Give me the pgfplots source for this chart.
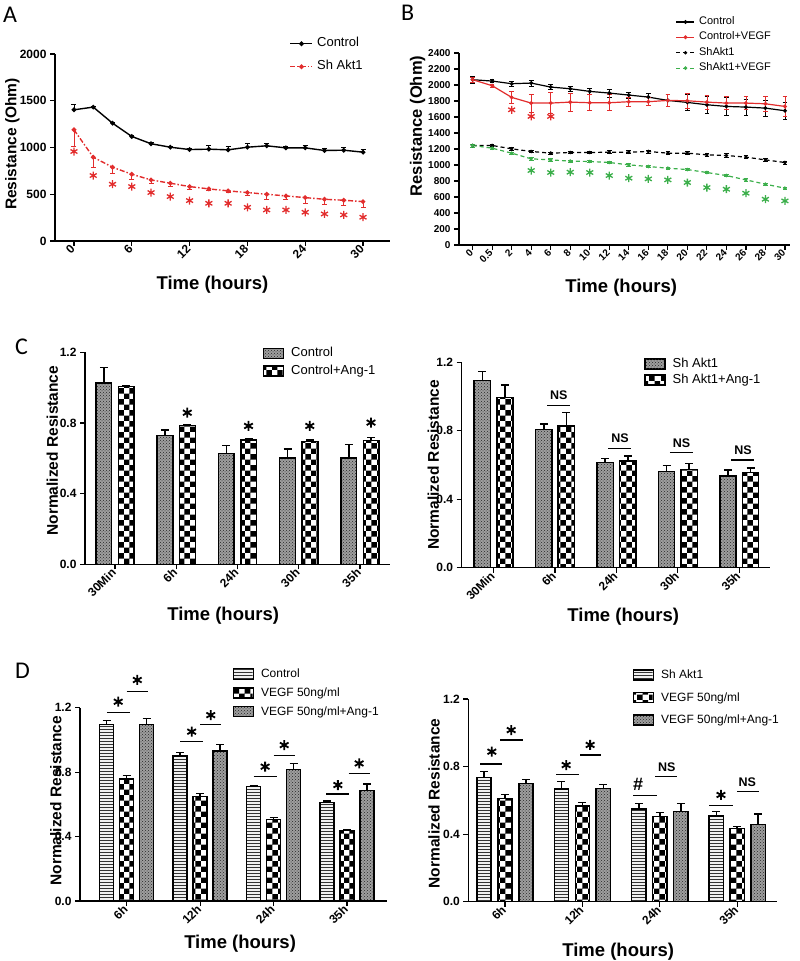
\documentclass[border=0pt]{standalone}
\usepackage{fontspec}
\setmainfont{Liberation Sans}
\newfontfamily\lblfont{Carlito}
\usepackage{pgfplots}
\usepackage{pgfplotstable}
\pgfplotsset{compat=1.18}
\usetikzlibrary{patterns}
\definecolor{myred}{RGB}{226,45,45}
\definecolor{mygreen}{RGB}{60,175,75}

\pgfplotstableread{
t  c    ce  s    se   st
0  1403 55  1189 180  957
2  1432 10  896  110  700
4  1260 12  789  70   607
6  1118 15  714  60   582
8  1040 10  653  40   518
10 1003 12  618  30   475
12 978  10  582  25   432
14 982  45  557  20   403
16 975  40  536  20   403
18 1003 45  518  30   360
20 1018 30  500  60   332
22 996  20  482  40   332
24 996  25  464  60   307
26 968  25  446  55   289
28 971  25  436  50   279
30 950  25  421  60   254
}\dataA

\pgfplotstableread{
i  c    ce   cv   cve  s    se  sv   sve
0  2066 40   2066 30   1244 20  1244 20
1  2049 20   1991 20   1244 15  1210 15
2  2016 30   1845 80   1202 15  1148 15
3  2024 40   1774 110  1169 15  1077 15
4  1974 30   1774 130  1148 15  1064 15
5  1953 30   1786 110  1156 15  1048 15
6  1920 40   1778 100  1156 15  1044 15
7  1899 50   1778 100  1160 20  1031 15
8  1874 40   1791 60   1160 20  1002 15
9  1849 50   1791 50   1169 20  981  15
10 1807 80   1807 80   1148 20  960  15
11 1782 100  1803 90   1148 20  943  15
12 1753 110  1786 90   1127 20  906  15
13 1732 110  1774 80   1119 25  868  15
14 1724 100  1774 80   1098 20  814  15
15 1711 100  1765 90   1064 20  760  15
16 1678 110  1732 120  1031 20  710  15
}\dataB

\pgfplotstableread{
i  g
3  931
4  906
5  910
6  906
7  868
8  835
9  826
10 814
11 781
12 718
13 697
14 647
15 572
16 551
}\starsBg

\pgfplotstableread{
x  c     ce     a     ae
0  1.025 0.088  1.006 0.005
1  0.728 0.032  0.787 0.005
2  0.628 0.044  0.704 0.007
3  0.602 0.051  0.694 0.010
4  0.602 0.077  0.700 0.019
}\dataCL

\pgfplotstableread{
x  c     ce     a     ae
0  1.093 0.052  0.995 0.071
1  0.808 0.032  0.828 0.078
2  0.614 0.025  0.623 0.030
3  0.561 0.035  0.575 0.035
4  0.536 0.035  0.557 0.024
}\dataCR

\pgfplotstableread{
x  c     ce     v     ve     a     ae
0  1.097 0.022  0.757 0.021  1.097 0.037
1  0.900 0.021  0.648 0.020  0.931 0.041
2  0.710 0.008  0.507 0.012  0.817 0.037
3  0.610 0.011  0.438 0.007  0.685 0.041
}\dataDL

\pgfplotstableread{
x  c     ce     v     ve     a     ae
0  0.734 0.036  0.612 0.024  0.701 0.023
1  0.667 0.044  0.568 0.018  0.671 0.024
2  0.549 0.033  0.503 0.024  0.533 0.049
3  0.507 0.026  0.434 0.010  0.458 0.061
}\dataDR

\tikzset{
  pgray/.style={draw=none, preaction={fill=black!38}, pattern=crosshatch dots, pattern color=black!85},
  pcheck/.style={draw=none, preaction={fill=white}, pattern=checkerboard, pattern color=black},
  phl/.style={draw=none, preaction={fill=black!6}, pattern=horizontal lines, pattern color=black!80},
  outl/.style={draw=black, fill=none, line width=1.5pt},
}

\pgfplotsset{
  gp/.style={
    scale only axis,
    axis lines=left,
    axis line style={-, line width=1.3pt},
    tick align=outside,
    major tick length=5pt,
    tick style={black, line width=1.2pt},
    /pgf/number format/assume math mode=true,
    ticklabel style={font=\fontsize{12}{12}\selectfont\bfseries},
    xticklabel style={rotate=45, anchor=east, inner sep=1.5pt},
    xlabel style={font=\fontsize{18.5}{18.5}\selectfont\bfseries, anchor=center},
    ylabel style={font=\fontsize{15.5}{15.5}\selectfont\bfseries, anchor=center},
    clip=false,
    legend cell align=left,
  },
  lineleg/.style={
    legend style={draw=none, fill=none, inner sep=0pt, anchor=north east,
      nodes={text height=0.75em, text depth=0.25em, inner sep=1pt},
      /tikz/every odd column/.append style={column sep=3pt}},
  },
  barleg/.style={
    legend style={draw=none, fill=none, inner sep=0pt, anchor=north east,
      nodes={text height=0.75em, text depth=0.25em, inner sep=1pt},
      /tikz/every odd column/.append style={column sep=6pt}},
    legend image code/.code={%
      \draw[black, line width=1.5pt, fill=none] (0pt,-4pt) rectangle (20pt,6pt);
      \path[##1, draw=none] (0.75pt,-3.25pt) rectangle (19.25pt,5.25pt);},
  },
  eb/.style={error bars/.cd, y dir=plus, y explicit,
    error bar style={solid, draw=black, line width=1.5pt},
    error mark options={solid, draw=black, rotate=90, mark size=4pt, line width=1.5pt}},
}

\begin{document}
\begin{tikzpicture}[x=1pt,y=1pt]
\path[use as bounding box] (0,0) rectangle (800,961);

% ---------- Panel labels
\node[font=\lblfont\fontsize{24}{24}\selectfont, anchor=north west, inner sep=0pt] at (3,954) {A};
\node[font=\lblfont\fontsize{24}{24}\selectfont, anchor=north west, inner sep=0pt] at (401,956) {B};
\node[font=\lblfont\fontsize{24}{24}\selectfont, anchor=north west, inner sep=0pt] at (15,622) {C};
\node[font=\lblfont\fontsize{24}{24}\selectfont, anchor=north west, inner sep=0pt] at (15,298) {D};

% ---------- Panel A
\begin{axis}[gp, lineleg, at={(55pt,720pt)}, anchor=south west,
  width=335pt, height=187pt,
  xmin=-1.97, xmax=32.8, ymin=0, ymax=2000,
  xtick={0,6,12,18,24,30}, xticklabels={0,6,12,18,24,30},
  ytick={0,500,1000,1500,2000}, yticklabels={0,500,1000,1500,2000},
  xlabel={Time (hours)}, ylabel={Resistance (Ohm)},
  xlabel style={at={(axis description cs:0.47,-0.235)}},
  ylabel style={at={(axis description cs:-0.127,0.519)}},
  legend style={at={(0.922,1.088)}, row sep=11pt, font=\fontsize{13}{13}\selectfont},
  legend image code/.code={\draw[mark repeat=2, mark phase=2, #1] plot coordinates {(0pt,0pt)(11pt,0pt)(22pt,0pt)};},
]
\addplot[black, line width=1.4pt, mark=*, mark size=1.6pt,
  error bars/.cd, y dir=plus, y explicit,
  error bar style={solid, line width=0.8pt},
  error mark options={solid, rotate=90, mark size=2.5pt, line width=0.8pt}]
  table[x=t, y=c, y error=ce] {\dataA};
\addlegendentry{Control}
\addplot[myred, line width=1.4pt, dash pattern=on 5pt off 2pt on 1.5pt off 2pt, mark=*, mark size=1.6pt, mark options={solid},
  error bars/.cd, y dir=minus, y explicit,
  error bar style={solid, line width=0.8pt},
  error mark options={solid, rotate=90, mark size=2.5pt, line width=0.8pt}]
  table[x=t, y=s, y error=se] {\dataA};
\addlegendentry{Sh Akt1}
\addplot[myred, only marks, mark=asterisk, mark size=4pt, line width=1.3pt, forget plot]
  table[x=t, y=st] {\dataA};
\end{axis}

% ---------- Panel B
\begin{axis}[gp, lineleg, at={(459pt,716pt)}, anchor=south west,
  width=331pt, height=192pt,
  xmin=-0.70, xmax=16.26, ymin=0, ymax=2400,
  xtick={0,...,16}, xticklabels={0,0.5,2,4,6,8,10,12,14,16,18,20,22,24,26,28,30},
  ticklabel style={font=\fontsize{10}{10}\selectfont\bfseries},
  ytick={0,200,...,2400}, yticklabels={0,200,400,600,800,1000,1200,1400,1600,1800,2000,2200,2400},
  xlabel={Time (hours)}, ylabel={Resistance (Ohm)},
  ylabel style={font=\fontsize{16.5}{16.5}\selectfont\bfseries},
  xlabel style={at={(axis description cs:0.49,-0.221)}},
  ylabel style={at={(axis description cs:-0.125,0.62)}},
  legend style={at={(0.946,1.194)}, row sep=3.4pt, font=\fontsize{11}{11}\selectfont},
  legend image code/.code={\draw[mark repeat=2, mark phase=2, #1] plot coordinates {(0pt,0pt)(9pt,0pt)(18pt,0pt)};},
]
\addplot[black, line width=1.2pt, mark=*, mark size=1.3pt,
  error bars/.cd, y dir=both, y explicit,
  error bar style={solid, line width=0.7pt},
  error mark options={solid, rotate=90, mark size=2.3pt, line width=0.7pt}]
  table[x=i, y=c, y error=ce] {\dataB};
\addlegendentry{Control}
\addplot[myred, line width=1.2pt, mark=*, mark size=1.3pt,
  error bars/.cd, y dir=both, y explicit,
  error bar style={solid, line width=0.7pt},
  error mark options={solid, rotate=90, mark size=2.3pt, line width=0.7pt}]
  table[x=i, y=cv, y error=cve] {\dataB};
\addlegendentry{Control+VEGF}
\addplot[black, line width=1.2pt, dash pattern=on 4pt off 3pt, mark=*, mark size=1.1pt, mark options={solid},
  error bars/.cd, y dir=both, y explicit,
  error bar style={solid, line width=0.7pt},
  error mark options={solid, rotate=90, mark size=2.3pt, line width=0.7pt}]
  table[x=i, y=s, y error=se] {\dataB};
\addlegendentry{ShAkt1}
\addplot[mygreen, line width=1.2pt, dash pattern=on 4pt off 3pt, mark=*, mark size=1.1pt, mark options={solid},
  error bars/.cd, y dir=both, y explicit,
  error bar style={solid, line width=0.7pt},
  error mark options={solid, rotate=90, mark size=2.3pt, line width=0.7pt}]
  table[x=i, y=sv, y error=sve] {\dataB};
\addlegendentry{ShAkt1+VEGF}
\addplot[myred, only marks, mark=asterisk, mark size=4pt, line width=1.3pt, forget plot]
  coordinates {(2,1690) (3,1607) (4,1607)};
\addplot[mygreen, only marks, mark=asterisk, mark size=4pt, line width=1.3pt, forget plot]
  table[x=i, y=g] {\starsBg};
\end{axis}

% ---------- Panel C left
\begin{axis}[gp, barleg, at={(85pt,396.7pt)}, anchor=south west,
  width=305pt, height=212pt,
  xmin=-0.49, xmax=4.49, ymin=0, ymax=1.2,
  xtick={0,...,4}, xticklabels={30Min,6h,24h,30h,35h},
  ytick={0,0.4,0.8,1.2}, yticklabels={0.0,0.4,0.8,1.2},
  xlabel={Time (hours)}, ylabel={Normalized Resistance},
  xlabel style={at={(axis description cs:0.453,-0.242)}},
  ylabel style={at={(axis description cs:-0.107,0.536)}},
  legend style={at={(0.956,1.023)}, row sep=5pt, font=\fontsize{13}{13}\selectfont},
]
\addplot[ybar, bar width=15.7pt, bar shift=0pt, pgray] table[x expr=\thisrow{x}-0.183, y=c] {\dataCL};
\addlegendentry{Control}
\addplot[ybar, bar width=15.7pt, bar shift=0pt, pcheck] table[x expr=\thisrow{x}+0.183, y=a] {\dataCL};
\addlegendentry{Control+Ang-1}
\addplot[ybar, bar width=15.7pt, bar shift=0pt, outl, forget plot, eb] table[x expr=\thisrow{x}-0.183, y=c, y error=ce] {\dataCL};
\addplot[ybar, bar width=15.7pt, bar shift=0pt, outl, forget plot, eb] table[x expr=\thisrow{x}+0.183, y=a, y error=ae] {\dataCL};
\addplot[black, only marks, mark=asterisk, mark size=5pt, line width=1.8pt, forget plot]
  coordinates {(1.18,0.858) (2.18,0.783) (3.18,0.783) (4.18,0.802)};
\end{axis}

% ---------- Panel C right
\begin{axis}[gp, barleg, at={(461.7pt,393.3pt)}, anchor=south west,
  width=308.3pt, height=205.4pt,
  xmin=-0.52, xmax=4.5, ymin=0, ymax=1.2,
  xtick={0,...,4}, xticklabels={30Min,6h,24h,30h,35h},
  ytick={0,0.4,0.8,1.2}, yticklabels={0.0,0.4,0.8,1.2},
  xlabel={Time (hours)}, ylabel={Normalized Resistance},
  xlabel style={at={(axis description cs:0.524,-0.239)}},
  ylabel style={at={(axis description cs:-0.092,0.5)}},
  legend style={at={(0.973,1.02)}, row sep=3.3pt, font=\fontsize{13}{13}\selectfont},
]
\addplot[ybar, bar width=16.3pt, bar shift=0pt, pgray] table[x expr=\thisrow{x}-0.184, y=c] {\dataCR};
\addlegendentry{Sh Akt1}
\addplot[ybar, bar width=16.3pt, bar shift=0pt, pcheck] table[x expr=\thisrow{x}+0.184, y=a] {\dataCR};
\addlegendentry{Sh Akt1+Ang-1}
\addplot[ybar, bar width=16.3pt, bar shift=0pt, outl, forget plot, eb] table[x expr=\thisrow{x}-0.184, y=c, y error=ce] {\dataCR};
\addplot[ybar, bar width=16.3pt, bar shift=0pt, outl, forget plot, eb] table[x expr=\thisrow{x}+0.184, y=a, y error=ae] {\dataCR};
\addplot[black, line width=1.3pt, forget plot] coordinates {(0.87,0.949) (1.24,0.949)};
\addplot[black, line width=1.3pt, forget plot] coordinates {(1.87,0.697) (2.24,0.697)};
\addplot[black, line width=1.3pt, forget plot] coordinates {(2.87,0.672) (3.24,0.672)};
\addplot[black, line width=1.3pt, forget plot] coordinates {(3.87,0.629) (4.24,0.629)};
\node[font=\fontsize{12.5}{12.5}\selectfont\bfseries, anchor=base, yshift=5.5pt] at (axis cs:1.06,0.949) {NS};
\node[font=\fontsize{12.5}{12.5}\selectfont\bfseries, anchor=base, yshift=5.5pt] at (axis cs:2.06,0.697) {NS};
\node[font=\fontsize{12.5}{12.5}\selectfont\bfseries, anchor=base, yshift=5.5pt] at (axis cs:3.06,0.672) {NS};
\node[font=\fontsize{12.5}{12.5}\selectfont\bfseries, anchor=base, yshift=5.5pt] at (axis cs:4.06,0.629) {NS};
\end{axis}

% ---------- Panel D left
\begin{axis}[gp, barleg, at={(80pt,60pt)}, anchor=south west,
  width=306.7pt, height=193.3pt,
  xmin=-0.635, xmax=3.54, ymin=0, ymax=1.2,
  xtick={0,...,3}, xticklabels={6h,12h,24h,35h},
  ytick={0,0.4,0.8,1.2}, yticklabels={0.0,0.4,0.8,1.2},
  xlabel={Time (hours)}, ylabel={Normalized Resistance},
  xlabel style={at={(axis description cs:0.522,-0.222)}},
  ylabel style={at={(axis description cs:-0.079,0.519)}},
  legend style={at={(0.978,1.204)}, row sep=6pt, font=\fontsize{12}{12}\selectfont},
]
\addplot[ybar, bar width=14pt, bar shift=0pt, phl] table[x expr=\thisrow{x}-0.272, y=c] {\dataDL};
\addlegendentry{Control}
\addplot[ybar, bar width=14pt, bar shift=0pt, pcheck] table[x=x, y=v] {\dataDL};
\addlegendentry{VEGF 50ng/ml}
\addplot[ybar, bar width=14pt, bar shift=0pt, pgray] table[x expr=\thisrow{x}+0.272, y=a] {\dataDL};
\addlegendentry{VEGF 50ng/ml+Ang-1}
\addplot[ybar, bar width=14pt, bar shift=0pt, outl, forget plot, eb] table[x expr=\thisrow{x}-0.272, y=c, y error=ce] {\dataDL};
\addplot[ybar, bar width=14pt, bar shift=0pt, outl, forget plot, eb] table[x=x, y=v, y error=ve] {\dataDL};
\addplot[ybar, bar width=14pt, bar shift=0pt, outl, forget plot, eb] table[x expr=\thisrow{x}+0.272, y=a, y error=ae] {\dataDL};
\addplot[black, line width=1.3pt, forget plot] coordinates {(-0.27,1.171) (0.04,1.171)};
\addplot[black, line width=1.3pt, forget plot] coordinates {(0.0,1.299) (0.29,1.299)};
\addplot[black, line width=1.3pt, forget plot] coordinates {(0.73,0.989) (1.04,0.989)};
\addplot[black, line width=1.3pt, forget plot] coordinates {(1.0,1.097) (1.29,1.097)};
\addplot[black, line width=1.3pt, forget plot] coordinates {(1.73,0.772) (2.04,0.772)};
\addplot[black, line width=1.3pt, forget plot] coordinates {(2.0,0.902) (2.29,0.902)};
\addplot[black, line width=1.3pt, forget plot] coordinates {(2.72,0.664) (3.03,0.664)};
\addplot[black, line width=1.3pt, forget plot] coordinates {(3.02,0.792) (3.31,0.792)};
\addplot[black, only marks, mark=asterisk, mark size=5pt, line width=1.8pt, forget plot]
  coordinates {(-0.115,1.237) (0.145,1.372) (0.885,1.051) (1.145,1.154)
               (1.885,0.834) (2.145,0.968) (2.875,0.720) (3.165,0.854)};
\end{axis}

% ---------- Panel D right
\begin{axis}[gp, barleg, at={(468.3pt,59.3pt)}, anchor=south west,
  width=308.4pt, height=202.7pt,
  xmin=-0.474, xmax=3.51, ymin=0, ymax=1.2,
  xtick={0,...,3}, xticklabels={6h,12h,24h,35h},
  ytick={0,0.4,0.8,1.2}, yticklabels={0.0,0.4,0.8,1.2},
  xlabel={Time (hours)}, ylabel={Normalized Resistance},
  xlabel style={at={(axis description cs:0.486,-0.247)}},
  ylabel style={at={(axis description cs:-0.111,0.485)}},
  legend style={at={(1.011,1.147)}, row sep=9.7pt, font=\fontsize{12}{12}\selectfont},
]
\addplot[ybar, bar width=14.3pt, bar shift=0pt, phl] table[x expr=\thisrow{x}-0.271, y=c] {\dataDR};
\addlegendentry{Sh Akt1}
\addplot[ybar, bar width=14.3pt, bar shift=0pt, pcheck] table[x=x, y=v] {\dataDR};
\addlegendentry{VEGF 50ng/ml}
\addplot[ybar, bar width=14.3pt, bar shift=0pt, pgray] table[x expr=\thisrow{x}+0.271, y=a] {\dataDR};
\addlegendentry{VEGF 50ng/ml+Ang-1}
\addplot[ybar, bar width=14.3pt, bar shift=0pt, outl, forget plot, eb] table[x expr=\thisrow{x}-0.271, y=c, y error=ce] {\dataDR};
\addplot[ybar, bar width=14.3pt, bar shift=0pt, outl, forget plot, eb] table[x=x, y=v, y error=ve] {\dataDR};
\addplot[ybar, bar width=14.3pt, bar shift=0pt, outl, forget plot, eb] table[x expr=\thisrow{x}+0.271, y=a, y error=ae] {\dataDR};
\addplot[black, line width=1.3pt, forget plot] coordinates {(-0.32,0.815) (-0.04,0.815)};
\addplot[black, line width=1.3pt, forget plot] coordinates {(-0.06,0.957) (0.23,0.957)};
\addplot[black, line width=1.3pt, forget plot] coordinates {(0.66,0.754) (0.95,0.754)};
\addplot[black, line width=1.3pt, forget plot] coordinates {(0.97,0.868) (1.24,0.868)};
\addplot[black, line width=1.3pt, forget plot] coordinates {(1.66,0.628) (1.96,0.628)};
\addplot[black, line width=1.3pt, forget plot] coordinates {(1.94,0.740) (2.22,0.740)};
\addplot[black, line width=1.3pt, forget plot] coordinates {(2.64,0.568) (2.94,0.568)};
\addplot[black, line width=1.3pt, forget plot] coordinates {(3.0,0.651) (3.28,0.651)};
\addplot[black, only marks, mark=asterisk, mark size=5pt, line width=1.8pt, forget plot]
  coordinates {(-0.17,0.888) (0.08,1.016) (0.79,0.809) (1.10,0.928) (2.79,0.632)};
\node[font=\fontsize{18}{18}\selectfont\bfseries, anchor=base, yshift=5pt] at (axis cs:1.72,0.628) {\#};
\node[font=\fontsize{12.5}{12.5}\selectfont\bfseries, anchor=base, yshift=5.5pt] at (axis cs:2.09,0.740) {NS};
\node[font=\fontsize{12.5}{12.5}\selectfont\bfseries, anchor=base, yshift=5.5pt] at (axis cs:3.13,0.651) {NS};
\end{axis}
\end{tikzpicture}
\end{document}
